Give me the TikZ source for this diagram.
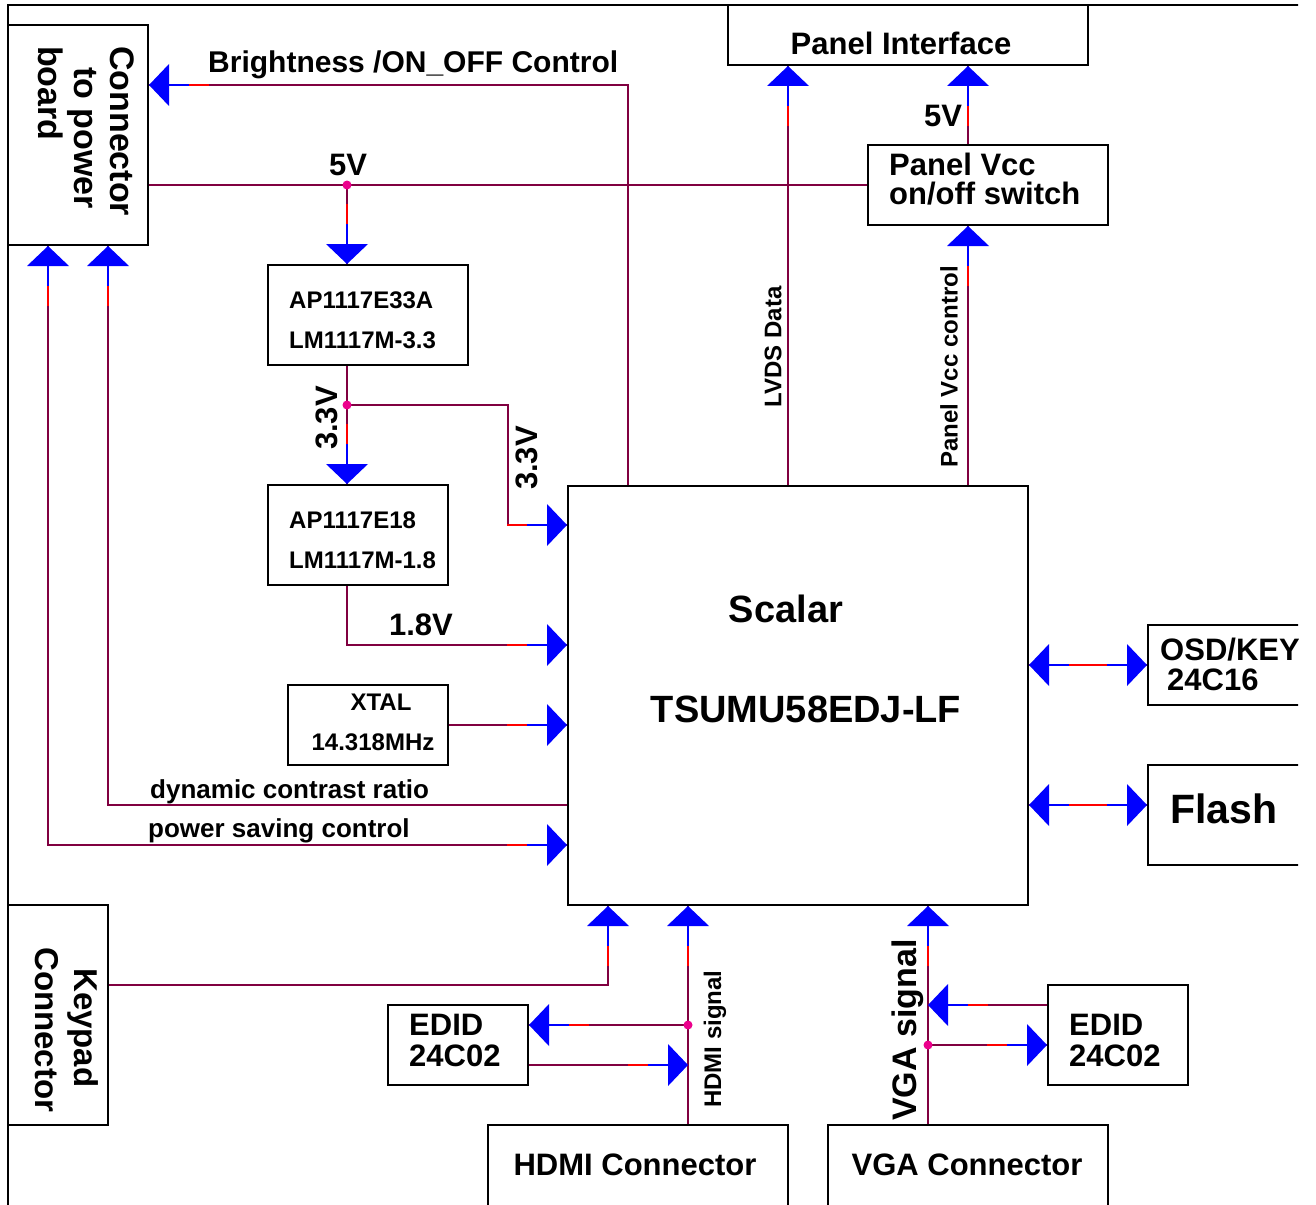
\documentclass[tikz,border=0pt]{standalone}
\usepackage{fontspec}
\setmainfont{Liberation Sans}
\definecolor{wine}{RGB}{128,0,64}
\newcommand\fsz[1]{\fontsize{#1}{#1}\selectfont}
\newcommand\ctip[2]{\begin{scope}[shift={#1},rotate=#2]
 \draw[red,line width=2pt] (-40,0) -- (-60,0);
 \draw[blue,line width=2pt] (-20,0) -- (-40,0);
 \fill[blue] (0,0) -- (-20,21) -- (-20,-21) -- cycle;
\end{scope}}
\begin{document}
\begin{tikzpicture}[x=1pt,y=-1pt,
  box/.style={draw=black,line width=2pt,inner sep=0pt},
  wire/.style={draw=wine,line width=2pt},
  txt/.style={inner sep=0pt,font=\bfseries},
  dot/.style={circle,fill=magenta,inner sep=0pt,minimum size=9pt}]
\useasboundingbox (0,0) rectangle (1316,1204);
\clip (0,0) rectangle (1298,1204);
\fill[white] (0,0) rectangle (1316,1204);
% frame
\draw[line width=2pt] (8,1300) -- (8,5) -- (1400,5);
% boxes
\node[box,minimum width=140pt,minimum height=220pt] (cp) at (78,135) {};
\node[box,minimum width=200pt,minimum height=100pt] (ap33) at (368,315) {};
\node[box,minimum width=180pt,minimum height=100pt] (ap18) at (358,535) {};
\node[box,minimum width=160pt,minimum height=80pt] (xtal) at (368,725) {};
\node[box,minimum width=460pt,minimum height=419pt] (sc) at (798,695.5) {};
\node[box,minimum width=360pt,minimum height=60pt] (pi) at (908,35) {};
\node[box,minimum width=240pt,minimum height=80pt] (pv) at (988,185) {};
\node[box,minimum width=200pt,minimum height=80pt] (osd) at (1248,665) {};
\node[box,minimum width=200pt,minimum height=100pt] (fl) at (1248,815) {};
\node[box,minimum width=100pt,minimum height=220pt] (kp) at (58,1015) {};
\node[box,minimum width=140pt,minimum height=80pt] (e1) at (458,1045) {};
\node[box,minimum width=140pt,minimum height=100pt] (e2) at (1118,1035) {};
\node[box,minimum width=300pt,minimum height=100pt] (hc) at (638,1175) {};
\node[box,minimum width=280pt,minimum height=100pt] (vc) at (968,1175) {};
% coordinates
\coordinate (b1) at (628,85);
\coordinate (j5) at (347,185);
\coordinate (j33) at (347,405);
\coordinate (k33) at (508,405);
\coordinate (k33b) at (508,525);
\coordinate (k18) at (347,645);
\coordinate (dc) at (108,805);
\coordinate (ps) at (48,845);
\coordinate (kk) at (608,985);
\coordinate (jh) at (688,1025);
\coordinate (eh) at (688,1065);
\coordinate (jv) at (928,1045);
\coordinate (ev) at (928,1005);
\coordinate (fy) at (0,805);
\coordinate (lv) at (788,0);
\coordinate (pc) at (968,0);
% wires
\draw[wire] (sc.north -| b1) -- (b1) -- (cp.east |- b1);
\ctip{(cp.east |- b1)}{180}
\draw[wire] (cp.east |- j5) -- (pv.west |- j5);
\draw[wire] (j5) -- (j5 |- ap33.north);
\ctip{(j5 |- ap33.north)}{-90}
\draw[wire] (j5 |- ap33.south) -- (j5 |- ap18.north);
\ctip{(j5 |- ap18.north)}{-90}
\draw[wire] (j33) -- (k33) -- (k33b) -- (sc.west |- k33b);
\ctip{(sc.west |- k33b)}{0}
\draw[wire] (j5 |- ap18.south) -- (k18) -- (sc.west |- k18);
\ctip{(sc.west |- k18)}{0}
\draw[wire] (xtal.east) -- (sc.west |- xtal.east);
\ctip{(sc.west |- xtal.east)}{0}
\draw[wire] (sc.west |- dc) -- (dc) -- (dc |- cp.south);
\ctip{(dc |- cp.south)}{90}
\draw[wire] (ps |- cp.south) -- (ps) -- (sc.west |- ps);
\ctip{(ps |- cp.south)}{90}
\ctip{(sc.west |- ps)}{0}
\draw[wire] (sc.north -| lv) -- (pi.south -| lv);
\ctip{(pi.south -| lv)}{90}
\draw[wire] (pv.north -| pc) -- (pi.south -| pc);
\ctip{(pi.south -| pc)}{90}
\draw[wire] (sc.north -| pc) -- (pv.south -| pc);
\ctip{(pv.south -| pc)}{90}
\draw[wire] (sc.east |- osd.west) -- (osd.west);
\ctip{(osd.west)}{0}
\ctip{(sc.east |- osd.west)}{180}
\draw[wire] (sc.east |- fy) -- (fl.west |- fy);
\ctip{(fl.west |- fy)}{0}
\ctip{(sc.east |- fy)}{180}
\draw[wire] (kp.east |- kk) -- (kk) -- (kk |- sc.south);
\ctip{(kk |- sc.south)}{90}
\draw[wire] (jh |- hc.north) -- (jh |- sc.south);
\ctip{(jh |- sc.south)}{90}
\draw[wire] (jh) -- (e1.east |- jh);
\ctip{(e1.east |- jh)}{180}
\draw[wire] (e1.east |- eh) -- (eh);
\ctip{(eh)}{0}
\draw[wire] (jv |- vc.north) -- (jv |- sc.south);
\ctip{(jv |- sc.south)}{90}
\draw[wire] (e2.west |- ev) -- (ev);
\ctip{(ev)}{180}
\draw[wire] (jv) -- (e2.west |- jv);
\ctip{(e2.west |- jv)}{0}
% dots
\node[dot] (d1) at (j5) {};
\node[dot] (d2) at (j33) {};
\node[dot] (d3) at (jh) {};
\node[dot] (d4) at (jv) {};
% texts
\node[txt,rotate=-90,anchor=base west,font=\bfseries\fsz{34}] (t1) at (110,46) {Connector};
\node[txt,rotate=-90,anchor=base west,font=\bfseries\fsz{34}] (t2) at (74,67) {to power};
\node[txt,rotate=-90,anchor=base west,font=\bfseries\fsz{34}] (t3) at (38,46) {board};
\node[txt,anchor=base west,font=\bfseries\fsz{30}] (t4) at (208,73) {Brightness /ON\_OFF Control};
\node[txt,anchor=base,font=\bfseries\fsz{31}] (t5) at (348,175) {5V};
\node[txt,anchor=base west,font=\bfseries\fsz{24}] (t6) at (289,308) {AP1117E33A};
\node[txt,anchor=base west,font=\bfseries\fsz{24}] (t7) at (289,348) {LM1117M-3.3};
\node[txt,rotate=90,font=\bfseries\fsz{31}] (t8) at (327,418) {3.3V};
\node[txt,rotate=90,font=\bfseries\fsz{31}] (t9) at (527,458) {3.3V};
\node[txt,anchor=base west,font=\bfseries\fsz{24}] (t10) at (289,528) {AP1117E18};
\node[txt,anchor=base west,font=\bfseries\fsz{24}] (t11) at (289,568) {LM1117M-1.8};
\node[txt,anchor=base,font=\bfseries\fsz{31}] (t12) at (421,635) {1.8V};
\node[txt,anchor=base,font=\bfseries\fsz{24}] (t13) at (381,710) {XTAL};
\node[txt,anchor=base,font=\bfseries\fsz{24}] (t14) at (373,750) {14.318MHz};
\node[txt,anchor=base west,font=\bfseries\fsz{26}] (t15) at (150,798) {dynamic contrast ratio};
\node[txt,anchor=base west,font=\bfseries\fsz{26}] (t16) at (148,837) {power saving control};
\node[txt,anchor=base,font=\bfseries\fsz{38}] (t17) at (786,622) {Scalar};
\node[txt,anchor=base,font=\bfseries\fsz{38}] (t18) at (806,722) {TSUMU58EDJ-LF};
\node[txt,anchor=base,font=\bfseries\fsz{31}] (t19) at (901,55) {Panel Interface};
\node[txt,anchor=base,font=\bfseries\fsz{31}] (t20) at (943,127) {5V};
\node[txt,anchor=base west,font=\bfseries\fsz{31}] (t21) at (889,175) {Panel Vcc};
\node[txt,anchor=base west,font=\bfseries\fsz{31}] (t22) at (889,204) {on/off switch};
\node[txt,rotate=90,font=\bfseries\fsz{24}] (t23) at (773,347) {LVDS Data};
\node[txt,rotate=90,font=\bfseries\fsz{24}] (t24) at (949,367) {Panel Vcc control};
\node[txt,anchor=base west,font=\bfseries\fsz{31}] (t25) at (1160,660) {OSD/KEY};
\node[txt,anchor=base west,font=\bfseries\fsz{31}] (t26) at (1167,690) {24C16};
\node[txt,anchor=base west,font=\bfseries\fsz{41}] (t27) at (1170,823) {Flash};
\node[txt,rotate=-90,anchor=base west,font=\bfseries\fsz{33}] (t28) at (74,968) {Keypad};
\node[txt,rotate=-90,anchor=base west,font=\bfseries\fsz{33}] (t29) at (35,947) {Connector};
\node[txt,anchor=base west,font=\bfseries\fsz{31}] (t30) at (409,1035) {EDID};
\node[txt,anchor=base west,font=\bfseries\fsz{31}] (t31) at (409,1066) {24C02};
\node[txt,anchor=base west,font=\bfseries\fsz{31}] (t32) at (1069,1035) {EDID};
\node[txt,anchor=base west,font=\bfseries\fsz{31}] (t33) at (1069,1066) {24C02};
\node[txt,rotate=90,font=\bfseries\fsz{24}] (t34) at (715,1039) {HDMI signal};
\node[txt,rotate=90,font=\bfseries\fsz{34}] (t35) at (908,1030) {VGA signal};
\node[txt,anchor=base,font=\bfseries\fsz{31}] (t36) at (635,1175) {HDMI Connector};
\node[txt,anchor=base,font=\bfseries\fsz{31}] (t37) at (967,1175) {VGA Connector};
\end{tikzpicture}
\end{document}
